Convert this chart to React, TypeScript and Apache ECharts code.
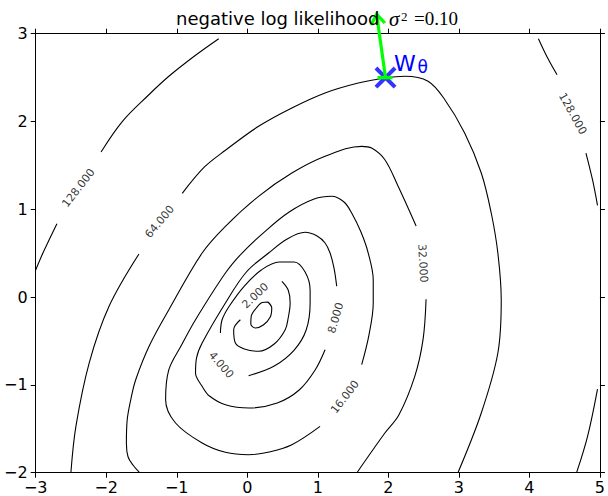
import React, { useEffect, useRef } from "react";
import * as echarts from "echarts";

// Axis ranges
const xMin = -3;
const xMax = 5;
const yMin = -2;
const yMax = 3;
const tickStep = 1;

// Contour lines (data coordinates)
const contourL1 = [[0.293,-0.056],[0.347,-0.124],[0.326,-0.227],[0.227,-0.318],[0.114,-0.352],[0.05,-0.307],[0.057,-0.215],[0.128,-0.124],[0.213,-0.062],[0.293,-0.056]];
const contourL2 = [[0.491,0.18],[0.58,0.081],[0.608,-0.067],[0.58,-0.238],[0.538,-0.371],[0.382,-0.534],[0.16,-0.617],[-0.042,-0.591],[-0.169,-0.523],[-0.193,-0.371],[-0.098,-0.258]];
const contourL4 = [[-0.381,-0.409],[-0.357,-0.258],[-0.254,-0.102],[-0.042,0.126],[0.199,0.309],[0.453,0.4],[0.665,0.4],[0.82,0.286],[0.891,0.081],[0.891,-0.067],[0.835,-0.375],[0.665,-0.603],[0.382,-0.785],[0.019,-0.895]];
const contourL8 = [[1.103,-0.599],[0.962,-0.83],[0.736,-1.058],[0.425,-1.206],[0.029,-1.263],[-0.31,-1.226],[-0.536,-1.127],[-0.64,-1.016],[-0.734,-0.865],[-0.72,-0.694],[-0.64,-0.523],[-0.31,-0.067],[-0.013,0.286],[0.302,0.502],[0.566,0.662],[0.82,0.738],[0.99,0.696],[1.103,0.616],[1.174,0.502],[1.23,0.331],[1.268,0.123]];
const contourL16 = [[1.032,-1.472],[0.632,-1.681],[0.312,-1.764],[0.019,-1.795],[-0.31,-1.768],[-0.64,-1.662],[-1.017,-1.434],[-1.158,-1.169],[-1.112,-0.827],[-0.932,-0.546],[-0.734,-0.258],[-0.31,0.274],[-0.074,0.502],[0.241,0.741],[0.594,0.969],[0.948,1.117],[1.198,1.148],[1.372,1.083],[1.48,0.958],[1.612,0.741],[1.715,0.502],[1.786,0.195],[1.786,-0.067],[1.725,-0.432],[1.622,-0.77]];
const contourL32a = [[-1.526,-2],[-1.621,-1.912],[-1.691,-1.818],[-1.714,-1.665],[-1.703,-1.4],[-1.653,-1.172],[-1.582,-0.941],[-1.384,-0.546],[-1.112,-0.144],[-0.64,0.502],[-0.31,0.806],[0.16,1.148],[0.632,1.413],[1.103,1.604],[1.622,1.717],[1.763,1.698],[1.951,1.565],[2.139,1.262],[2.394,0.81]];
const contourL32b = [[2.535,-0.025],[2.492,-0.485],[2.375,-0.902],[2.149,-1.343],[1.951,-1.548],[1.555,-2]];
const contourL64a = [[-2.501,-2],[-2.43,-1.472],[-2.242,-0.751],[-1.96,-0.105],[-1.536,0.491]];
const contourL64b = [[-0.922,1.182],[-0.607,1.482],[-0.31,1.672],[0.16,1.945],[0.632,2.154],[1.103,2.325],[1.574,2.438],[1.951,2.495],[2.234,2.515],[2.563,2.458],[2.799,2.251],[3.082,1.869],[3.318,1.413],[3.459,0.958],[3.553,0.502],[3.601,-0.03],[3.553,-0.637],[3.318,-1.32],[2.987,-2]];
const contourL128a = [[-3,0.309],[-2.893,0.51],[-2.699,0.836]];
const contourL128b = [[-2.073,1.653],[-1.77,2.002],[-1.399,2.302],[-1.112,2.515],[-0.748,2.746],[-0.405,2.943]];
const contourL128c = [[4.128,2.943],[4.259,2.723],[4.392,2.533]];
const contourL128d = [[4.802,1.641],[4.895,1.337],[4.966,1.045]];
const contourL128e = [[4.966,-1.047],[4.825,-1.586],[4.669,-2]];

const contourSegments = [
  contourL1, contourL2, contourL4, contourL8, contourL16,
  contourL32a, contourL32b, contourL64a, contourL64b,
  contourL128a, contourL128b, contourL128c, contourL128d, contourL128e,
];

// Inline contour labels
const labelTexts = ["2.000", "4.000", "8.000", "16.000", "32.000", "64.000", "128.000", "128.000"];
const labelPoints = [[0.114,0.016],[-0.371,-0.773],[1.254,-0.238],[1.386,-1.138],[2.488,0.385],[-1.243,0.859],[-2.392,1.243],[4.613,2.089]];
const labelAngles = [43, -49, 74, 52, -87, 50, 52, -61];

// Marker and arrow
const w0Point = [1.96, 2.5];
const arrowTip = [1.834, 3.221];

const xPath = "path://M0,1.3L1.3,0L5,3.7L8.7,0L10,1.3L6.3,5L10,8.7L8.7,10L5,6.3L1.3,10L0,8.7L3.7,5Z";

const fmt = (v: number) => (v < 0 ? "\u2212" + Math.abs(v) : String(v));

export default function App() {
  const ref = useRef<HTMLDivElement>(null);
  useEffect(() => {
    if (!ref.current) return;
    const chart = echarts.init(ref.current, undefined, { renderer: "svg" });
    const axisCommon = {
      type: "value" as const,
      interval: tickStep,
      splitLine: { show: false },
      axisLine: { show: true, onZero: false, lineStyle: { color: "#000", width: 1 } },
      axisTick: { show: true, inside: false, length: 5, lineStyle: { color: "#000", width: 1 } },
    };
    const labelStyle = {
      fontFamily: "DejaVu Sans",
      fontSize: 16,
      color: "#000",
      formatter: fmt,
      showMinLabel: true,
      showMaxLabel: true,
    };
    const series: any[] = contourSegments.map((seg) => ({
      type: "line",
      data: seg,
      symbol: "none",
      showSymbol: false,
      smooth: 0.35,
      silent: true,
      lineStyle: { color: "#000", width: 1.1 },
      z: 2,
    }));
    series.push({
      type: "scatter",
      symbol: "circle",
      symbolSize: 0.1,
      itemStyle: { color: "transparent" },
      silent: true,
      data: labelTexts.map((t, i) => ({ name: t, value: labelPoints[i], label: { rotate: labelAngles[i] } })),
      label: {
        show: true,
        position: "inside",
        formatter: "{b}",
        fontFamily: "DejaVu Sans",
        fontSize: 11,
        color: "#000",
      },
      z: 3,
    });
    series.push({
      type: "scatter",
      data: [w0Point],
      symbol: xPath,
      symbolSize: 22,
      itemStyle: { color: "#0000ff" },
      silent: true,
      z: 4,
    });
    series.push({
      type: "custom",
      clip: false,
      silent: true,
      z: 5,
      data: [[w0Point[0], w0Point[1], arrowTip[0], arrowTip[1]]],
      renderItem: (params: any, api: any) => {
        const s = api.coord([api.value(0), api.value(1)]);
        const e = api.coord([api.value(2), api.value(3)]);
        const dx = e[0] - s[0];
        const dy = e[1] - s[1];
        const len = Math.hypot(dx, dy);
        const bx = -dx / len;
        const by = -dy / len;
        const hl = 12;
        const ang = 0.62;
        const rot = (a: number) => [e[0] + hl * (bx * Math.cos(a) - by * Math.sin(a)), e[1] + hl * (bx * Math.sin(a) + by * Math.cos(a))];
        const a1 = rot(ang);
        const a2 = rot(-ang);
        const green = "#00ff00";
        return {
          type: "group",
          children: [
            { type: "line", shape: { x1: s[0], y1: s[1], x2: e[0] + bx * 1, y2: e[1] + by * 1 }, style: { stroke: green, lineWidth: 3.2 } },
            { type: "polyline", shape: { points: [a1, e, a2] }, style: { stroke: green, lineWidth: 3.2, fill: null, lineJoin: "miter" } },
            { type: "line", shape: { x1: s[0] - 8, y1: s[1], x2: s[0] + 7, y2: s[1] }, style: { stroke: green, lineWidth: 3.5 } },
          ],
        };
      },
    });
    chart.setOption({
      animation: false,
      backgroundColor: "#fff",
      grid: { left: 35.7, right: 6.3, top: 33.7, bottom: 23.3, containLabel: false },
      xAxis: [
        { ...axisCommon, min: xMin, max: xMax, position: "bottom", axisLabel: { ...labelStyle, margin: 7 } },
        { ...axisCommon, min: xMin, max: xMax, position: "top", axisLabel: { show: false } },
      ],
      yAxis: [
        { ...axisCommon, min: yMin, max: yMax, position: "left", axisLabel: { ...labelStyle, margin: 8 } },
        { ...axisCommon, min: yMin, max: yMax, position: "right", axisLabel: { show: false } },
      ],
      graphic: [
        { type: "text", x: 176, y: 18.7, style: { text: "negative log likelihood", font: '18px "DejaVu Sans"', fill: "#000", textAlign: "left", textVerticalAlign: "middle", verticalAlign: "middle" }, z: 10 },
        { type: "text", x: 389, y: 19.2, style: { text: "\u03c3", font: 'italic 21px "Liberation Serif"', fill: "#000", textAlign: "left", textVerticalAlign: "middle", verticalAlign: "middle" }, z: 10 },
        { type: "text", x: 401, y: 16.3, style: { text: "2", font: '13px "Liberation Serif"', fill: "#000", textAlign: "left", textVerticalAlign: "middle", verticalAlign: "middle" }, z: 10 },
        { type: "text", x: 414, y: 18.5, style: { text: "=0.10", font: '19px "Liberation Serif"', fill: "#000", textAlign: "left", textVerticalAlign: "middle", verticalAlign: "middle" }, z: 10 },
        { type: "text", x: 394, y: 63, style: { text: "W", font: '22px "DejaVu Sans"', fill: "#0000ff", textAlign: "left", textVerticalAlign: "middle", verticalAlign: "middle" }, z: 10 },
        { type: "text", x: 417.5, y: 67.1, style: { text: "\u03b8", font: '17px "DejaVu Sans"', fill: "#0000ff", textAlign: "left", textVerticalAlign: "middle", verticalAlign: "middle" }, z: 10 },
      ],
      series,
    });
    return () => chart.dispose();
  }, []);
  return <div ref={ref} style={{ position: "absolute", left: 0, top: 0, width: 608, height: 496 }} />;
}
